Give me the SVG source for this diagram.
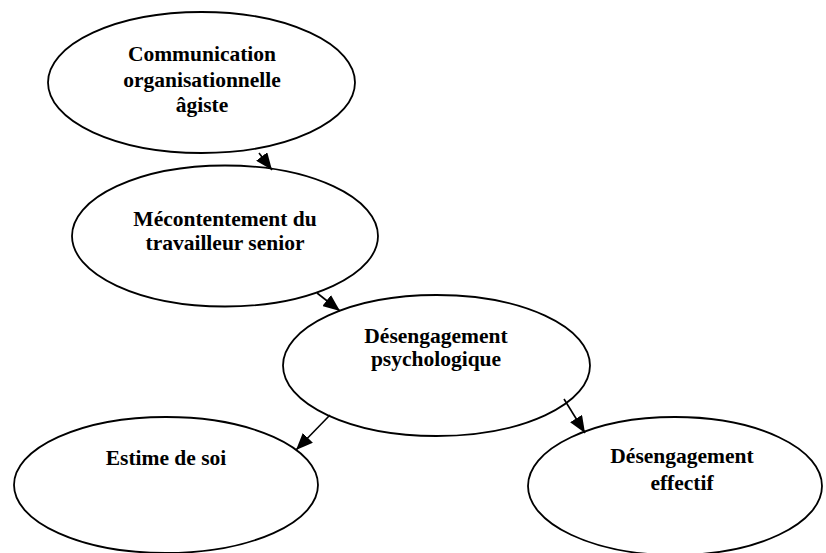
<svg xmlns="http://www.w3.org/2000/svg" width="826" height="553" viewBox="0 0 826 553">
<style>
.n{fill:#fff;stroke:#000;stroke-width:1.8}
.t{font-family:"Liberation Serif","Times New Roman",serif;font-weight:bold;font-size:21.5px;fill:#000;text-anchor:middle}
.c{stroke:#000;stroke-width:1.6;fill:none;marker-end:url(#ah)}
</style>
<defs>
<marker id="ah" markerUnits="userSpaceOnUse" markerWidth="17" markerHeight="14" refX="17" refY="7" orient="auto">
<path d="M0,0 L17,7 L0,14 z" fill="#000"/>
</marker>
</defs>
<rect width="826" height="553" fill="#fff"/>
<g id="n1"><ellipse class="n" cx="201.5" cy="82.5" rx="153.5" ry="70.5"/>
<text class="t" x="202" y="61">Communication</text>
<text class="t" x="202" y="87">organisationnelle</text>
<text class="t" x="202" y="112">âgiste</text></g>
<g id="n2"><ellipse class="n" cx="225" cy="236" rx="153" ry="70.5"/>
<text class="t" x="225" y="226">Mécontentement du</text>
<text class="t" x="225" y="250">travailleur senior</text></g>
<g id="n3"><ellipse class="n" cx="436.5" cy="365.5" rx="153.5" ry="70.5"/>
<text class="t" x="436" y="343">Désengagement</text>
<text class="t" x="436" y="366">psychologique</text></g>
<g id="n4"><ellipse class="n" cx="166" cy="485" rx="152" ry="68"/>
<text class="t" x="166" y="465">Estime de soi</text></g>
<g id="n5"><ellipse class="n" cx="675" cy="486" rx="147" ry="69"/>
<text class="t" x="682" y="463">Désengagement</text>
<text class="t" x="682" y="490">effectif</text></g>
<g id="connectors">
<line class="c" x1="259" y1="153" x2="272" y2="170"/>
<line class="c" x1="317" y1="293" x2="340" y2="311"/>
<line class="c" x1="330" y1="415" x2="296" y2="450"/>
<line class="c" x1="564" y1="399" x2="585" y2="433"/>
</g>
</svg>
